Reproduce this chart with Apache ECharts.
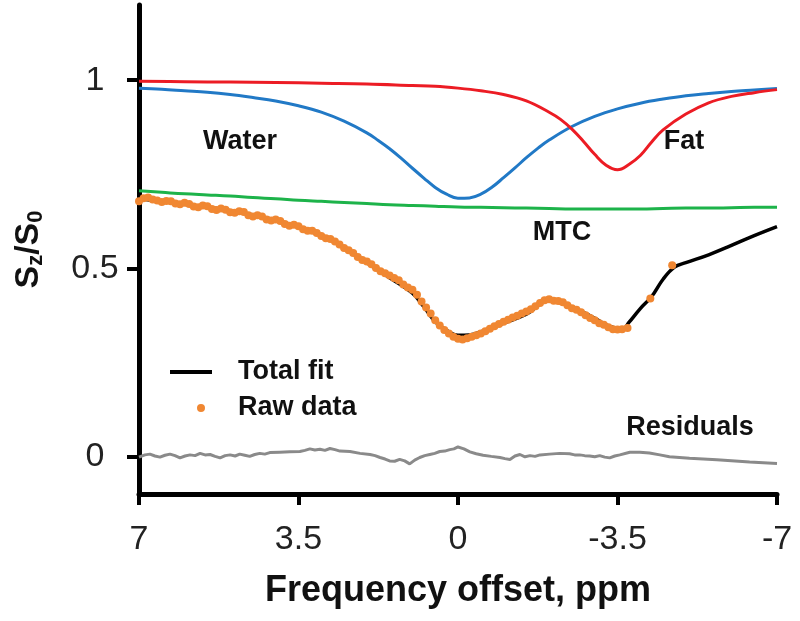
<!DOCTYPE html>
<html>
<head>
<meta charset="utf-8">
<script src="https://cdn.jsdelivr.net/npm/echarts@6/dist/echarts.min.js"></script>
<style>html,body{margin:0;padding:0;background:#fff}#c{width:800px;height:621px}</style>
</head>
<body>
<div id="c"></div>
<script>
// ---- data ----
var xTicks = [7, 3.5, 0, -3.5, -7];
var yTicks = [0, 0.5, 1];

var mtcX = [7,6.5,6,5.5,5,4.5,4,3.5,3,2.5,2,1.5,1,0.5,0,-0.5,-1,-1.5,-2,-2.5,-3,-3.5,-4,-4.5,-5,-5.5,-6,-6.5,-7];
var mtcY = [0.706,0.702,0.698,0.695,0.692,0.688,0.685,0.681,0.678,0.675,0.672,0.669,0.667,0.665,0.663,0.662,0.661,0.660,0.659,0.658,0.658,0.658,0.658,0.659,0.660,0.660,0.661,0.662,0.662];

var waterX = [7,6.5,6,5.5,5,4.5,4,3.5,3,2.5,2,1.75,1.5,1.25,1,0.75,0.5,0.25,0,-0.25,-0.5,-0.75,-1,-1.25,-1.5,-1.75,-2,-2.5,-3,-3.5,-4,-4.5,-5,-5.5,-6,-6.5,-7];
var waterY = [0.979,0.976,0.972,0.968,0.962,0.954,0.945,0.932,0.915,0.891,0.860,0.840,0.818,0.793,0.766,0.740,0.715,0.697,0.686,0.687,0.697,0.716,0.741,0.767,0.794,0.819,0.841,0.877,0.904,0.924,0.939,0.950,0.959,0.965,0.970,0.974,0.978];

var fatX = [7,6,5,4,3,2,1,0.5,0,-0.5,-1,-1.5,-2,-2.25,-2.5,-2.75,-3,-3.25,-3.5,-3.75,-4,-4.25,-4.5,-5,-5.5,-6,-6.5,-7];
var fatY = [0.997,0.996,0.995,0.994,0.992,0.990,0.986,0.984,0.979,0.972,0.962,0.945,0.915,0.896,0.870,0.838,0.803,0.774,0.762,0.776,0.800,0.836,0.868,0.910,0.940,0.957,0.967,0.975];

var fitX = [7,6.5,6,5.5,5,4.5,4,3.5,3,2.5,2,1.5,1,0.75,0.5,0.25,0,-0.25,-0.5,-1,-1.5,-2,-2.5,-3,-3.25,-3.5,-3.6,-3.75,-4,-4.25,-4.5,-4.75,-5,-5.5,-6,-6.5,-7];
var fitY = [0.685,0.678,0.670,0.662,0.653,0.642,0.628,0.610,0.588,0.555,0.515,0.475,0.434,0.398,0.358,0.335,0.322,0.323,0.331,0.354,0.378,0.414,0.397,0.367,0.350,0.339,0.336,0.356,0.393,0.425,0.471,0.503,0.515,0.536,0.561,0.587,0.611];

var rawX = [7.0,6.9,6.8,6.7,6.6,6.5,6.4,6.3,6.2,6.1,6.0,5.9,5.8,5.7,5.6,5.5,5.4,5.3,5.2,5.1,5.0,4.9,4.8,4.7,4.6,4.5,4.4,4.3,4.2,4.1,4.0,3.9,3.8,3.7,3.6,3.5,3.4,3.3,3.2,3.1,3.0,2.9,2.8,2.7,2.6,2.5,2.4,2.3,2.2,2.1,2.0,1.9,1.8,1.7,1.6,1.5,1.4,1.3,1.2,1.1,1.0,0.9,0.8,0.7,0.6,0.5,0.4,0.3,0.2,0.1,0.0,-0.1,-0.2,-0.3,-0.4,-0.5,-0.6,-0.7,-0.8,-0.9,-1.0,-1.1,-1.2,-1.3,-1.4,-1.5,-1.6,-1.7,-1.8,-1.9,-2.0,-2.1,-2.2,-2.3,-2.4,-2.5,-2.6,-2.7,-2.8,-2.9,-3.0,-3.1,-3.2,-3.3,-3.4,-3.5,-3.6,-3.72,-4.22,-4.7];
var rawY = [0.678,0.686,0.688,0.683,0.680,0.676,0.679,0.678,0.672,0.670,0.674,0.671,0.664,0.662,0.667,0.665,0.658,0.655,0.659,0.656,0.649,0.648,0.652,0.650,0.641,0.638,0.641,0.638,0.630,0.627,0.630,0.626,0.618,0.613,0.616,0.612,0.604,0.600,0.600,0.594,0.586,0.580,0.578,0.571,0.563,0.554,0.548,0.541,0.530,0.522,0.518,0.511,0.501,0.492,0.487,0.481,0.474,0.468,0.457,0.449,0.443,0.430,0.412,0.396,0.380,0.362,0.348,0.336,0.327,0.318,0.313,0.311,0.314,0.318,0.322,0.327,0.333,0.339,0.346,0.352,0.358,0.363,0.369,0.374,0.380,0.385,0.391,0.399,0.408,0.415,0.418,0.414,0.413,0.410,0.402,0.394,0.390,0.383,0.375,0.368,0.362,0.354,0.350,0.343,0.338,0.337,0.338,0.341,0.420,0.508];

var resX = [7.0,6.87,6.76,6.65,6.54,6.43,6.32,6.21,6.1,5.99,5.88,5.77,5.66,5.55,5.44,5.33,5.22,5.11,5.0,4.89,4.79,4.68,4.57,4.46,4.35,4.24,4.13,3.91,3.69,3.47,3.36,3.25,3.14,3.03,2.92,2.81,2.7,2.59,2.37,2.15,1.93,1.82,1.71,1.6,1.5,1.39,1.28,1.17,1.06,0.95,0.84,0.73,0.62,0.51,0.4,0.29,0.18,0.09,0.0,-0.13,-0.26,-0.4,-0.55,-0.73,-0.92,-1.03,-1.14,-1.25,-1.36,-1.47,-1.58,-1.69,-1.8,-2.01,-2.23,-2.45,-2.56,-2.67,-2.78,-2.89,-3.0,-3.11,-3.22,-3.33,-3.44,-3.55,-3.77,-3.99,-4.2,-4.43,-4.64,-5.08,-5.68,-6.4,-7.0];
var resY = [-0.002,0.004,0.006,0.001,-0.002,0.003,0.006,0.002,-0.004,0.001,0.004,0.002,0.008,0.004,0.005,0.0,-0.004,0.002,0.004,0.001,0.006,0.003,0.0,0.005,0.008,0.006,0.010,0.011,0.012,0.013,0.016,0.020,0.017,0.019,0.016,0.021,0.018,0.014,0.013,0.008,0.005,0.002,-0.003,-0.007,-0.012,-0.013,-0.008,-0.012,-0.020,-0.010,-0.003,0.002,0.005,0.008,0.013,0.014,0.018,0.020,0.025,0.020,0.012,0.007,0.003,0.0,-0.003,-0.006,-0.008,0.001,0.005,-0.001,0.002,0.0,0.004,0.006,0.008,0.007,0.004,0.004,0.002,0.001,-0.001,0.002,-0.002,-0.004,0.001,0.004,0.011,0.011,0.009,0.004,-0.001,-0.005,-0.009,-0.015,-0.019];

var labels = [
  {text: 'Water', x: 240, y: 142},
  {text: 'Fat', x: 684, y: 142},
  {text: 'MTC', x: 562, y: 233},
  {text: 'Residuals', x: 690, y: 428}
];

function pairs(xs, ys) { return xs.map(function (x, i) { return [x, ys[i]]; }); }

var FONT = '"Liberation Sans", Arial, Helvetica, sans-serif';
var chart = echarts.init(document.getElementById('c'), null, {renderer: 'canvas'});

chart.setOption({
  animation: false,
  backgroundColor: '#ffffff',
  textStyle: {fontFamily: FONT},
  grid: {left: 139, right: 23, top: 5, bottom: 127, containLabel: false, outerBoundsMode: 'none'},
  legend: {
    orient: 'vertical', left: 170, top: 357, padding: 0, itemWidth: 42, itemHeight: 10, itemGap: 6,
    data: [
      {name: 'Total fit', icon: 'path://M0,0L42,0L42,4L0,4Z'},
      {name: 'Raw data', icon: 'path://M0,0L0.01,0L0.01,0.01ZM42,10L41.99,10L41.99,9.99ZM27,5A4,4 0 1 1 35,5A4,4 0 1 1 27,5Z'}
    ],
    textStyle: {fontFamily: FONT, fontSize: 27, fontWeight: 'bold', color: '#111', lineHeight: 30, padding: [0, 0, 0, 21]}
  },
  xAxis: {
    type: 'value', min: -7, max: 7, interval: 3.5, inverse: true,
    name: 'Frequency offset, ppm', nameLocation: 'middle', nameGap: 79,
    nameTextStyle: {fontFamily: FONT, fontSize: 36, fontWeight: 'bold', color: '#111'},
    axisLine: {onZero: false, lineStyle: {color: '#000', width: 5}},
    axisTick: {show: true, length: 11, lineStyle: {color: '#000', width: 4}},
    axisLabel: {fontFamily: FONT, fontSize: 34, color: '#222', margin: 29,
      formatter: function (v) { return String(v); }},
    splitLine: {show: false}
  },
  yAxis: {
    type: 'value', min: -0.1, max: 1.2,
    name: '{a|S}{b|z}{a|/S}{b|0}', nameLocation: 'middle', nameGap: 92, nameRotate: 90,
    nameTextStyle: {
      fontFamily: FONT, color: '#111',
      rich: {
        a: {fontFamily: FONT, fontSize: 34, fontWeight: 'bold', color: '#111'},
        b: {fontFamily: FONT, fontSize: 22, fontWeight: 'bold', color: '#111', verticalAlign: 'bottom', padding: [14, 0, 0, 0]}
      }
    },
    axisLine: {onZero: false, lineStyle: {color: '#000', width: 5}},
    axisTick: {show: true, length: 12, customValues: yTicks, lineStyle: {color: '#000', width: 4}},
    axisLabel: {fontFamily: FONT, fontSize: 34, color: '#222', margin: 44, align: 'center', customValues: yTicks,
      formatter: function (v) { return String(v); }},
    splitLine: {show: false}
  },
  graphic: labels.map(function (l) {
    return {type: 'text', x: l.x, y: l.y, z: 100, style: {text: l.text, fill: '#111',
      font: 'bold 27px ' + FONT, textAlign: 'center', textVerticalAlign: 'middle'}};
  }),
  series: [
    {name: 'Residuals', type: 'line', data: pairs(resX, resY), symbol: 'none', smooth: false,
      lineStyle: {color: '#8a8a8a', width: 3}, z: 2},
    {name: 'MTC', type: 'line', data: pairs(mtcX, mtcY), symbol: 'none', smooth: 0.4,
      lineStyle: {color: '#1db34a', width: 3}, z: 2},
    {name: 'Water', type: 'line', data: pairs(waterX, waterY), symbol: 'none', smooth: 0.4,
      lineStyle: {color: '#2179c6', width: 3}, z: 3},
    {name: 'Fat', type: 'line', data: pairs(fatX, fatY), symbol: 'none', smooth: 0.4,
      lineStyle: {color: '#ec1c24', width: 3}, z: 3},
    {name: 'Total fit', type: 'line', data: pairs(fitX, fitY), symbol: 'none', smooth: 0.4,
      itemStyle: {color: '#000'}, lineStyle: {color: '#000', width: 3.5}, z: 4},
    {name: 'Raw data', type: 'scatter', data: pairs(rawX, rawY), symbol: 'circle', symbolSize: 8,
      itemStyle: {color: '#f08732', opacity: 1}, z: 5}
  ]
});
</script>
</body>
</html>
